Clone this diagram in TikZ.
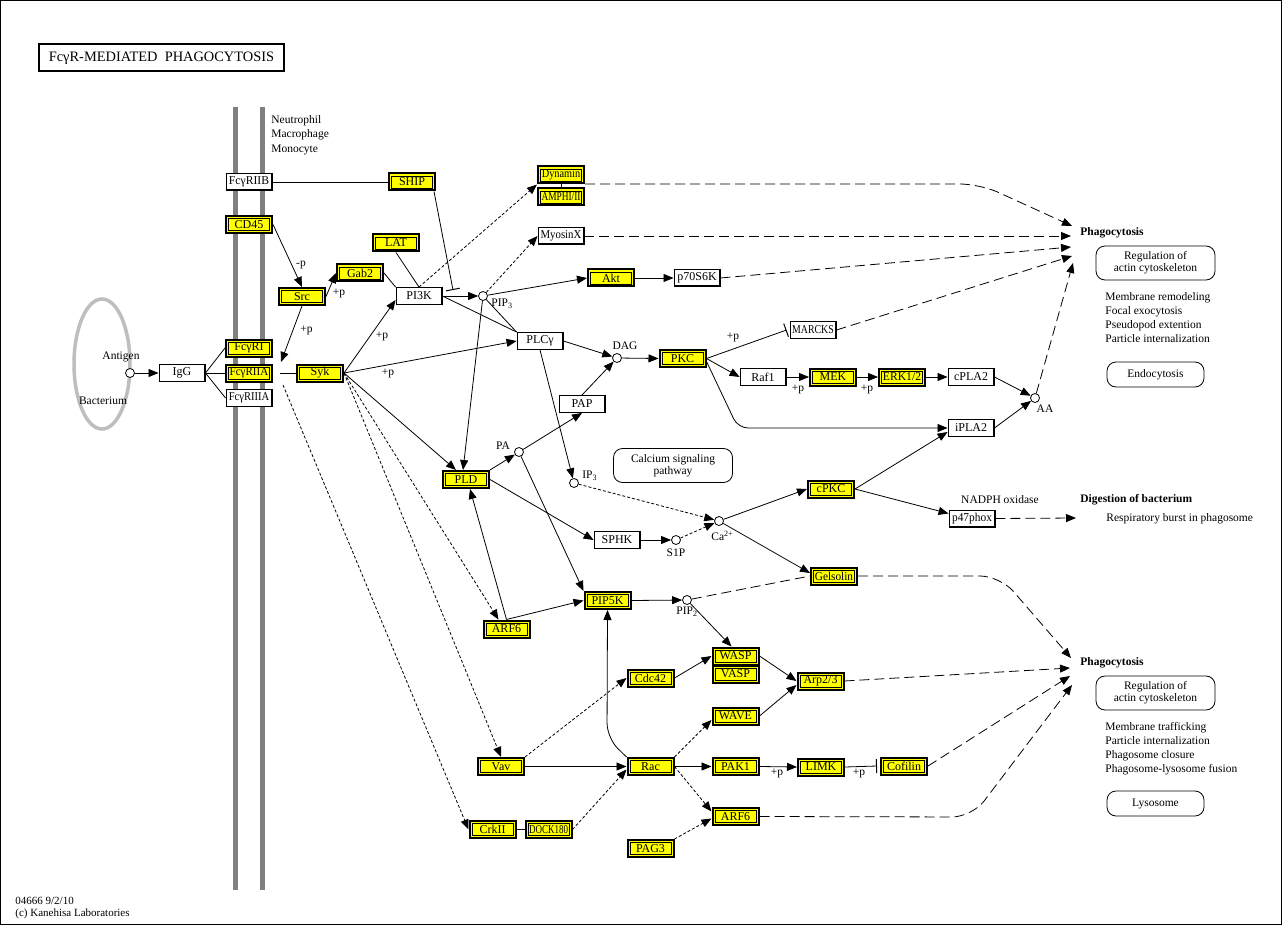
\documentclass[tikz,border=0pt]{standalone}
\usepackage{fontspec}
\usepackage{graphicx}
\setmainfont{Liberation Serif}
\usetikzlibrary{arrows.meta}
\definecolor{mem}{RGB}{128,128,128}
\definecolor{bact}{RGB}{190,190,190}
\definecolor{gy}{RGB}{255,255,0}
\newcommand{\sqz}[2]{\scalebox{#1}[1]{#2}}
\begin{document}
\begin{tikzpicture}[x=1pt,y=-1pt,line width=0.8pt,
  every node/.style={font=\fontsize{11.5}{12}\selectfont, inner sep=0pt},
  ybox/.style={draw, line width=2pt, fill=gy, minimum width=46pt, minimum height=17pt, font=\fontsize{12}{13}\selectfont,
    path picture={\draw[line width=0.7pt] ([shift={(2.5pt,2.5pt)}]path picture bounding box.south west) rectangle ([shift={(-2.5pt,-2.5pt)}]path picture bounding box.north east);}},
  wbox/.style={draw, line width=0.9pt, fill=white, minimum width=46pt, minimum height=17pt, font=\fontsize{12}{13}\selectfont,
    path picture={\draw[line width=2pt] (path picture bounding box.south west) -- (path picture bounding box.south east) -- (path picture bounding box.north east);}},
  cpd/.style={circle, draw, fill=white, minimum size=9pt, line width=0.8pt},
  rbox/.style={draw, rounded corners=9pt, line width=0.8pt, align=center, font=\fontsize{11.5}{12}\selectfont},
  arr/.style={-{Triangle[length=10pt,width=8pt]}},
  inh/.style={-{Bar[width=14pt,line width=1pt]}},
  fd/.style={dash pattern=on 3pt off 2pt},
  ld/.style={dash pattern=on 10pt off 5pt},
  bld/.style={font=\bfseries\fontsize{11.5}{12}\selectfont}
]
\useasboundingbox (0,0) rectangle (1282,925);
\fill[white] (0,0) rectangle (1282,925);
\draw[line width=1pt] (0.5,0.5) rectangle (1281.5,924.5);

% membrane and bacterium
\draw[mem, line width=5pt] (235,107) -- (235,890);
\draw[mem, line width=5pt] (262,107) -- (262,890);
\draw[bact, line width=3.5pt] (102,364) ellipse [x radius=28pt, y radius=65pt];

% title
\node[draw, line width=2pt, minimum width=245pt, minimum height=27pt, font=\fontsize{14.4}{16}\selectfont] (title) at (161.5,58) {FcγR-MEDIATED\ \ PHAGOCYTOSIS};

\node[anchor=north west, align=left, font=\fontsize{11.5}{14.5}\selectfont] (cells) at (271,115) {Neutrophil\\Macrophage\\Monocyte};
\node (antlbl) at (121,357) {Antigen};
\node (baclbl) at (103,401) {Bacterium};

% nodes
\node[cpd] (ant) at (130,373) {};
\node[wbox] (IgG) at (182,373) {IgG};
\node[wbox] (FcgRIIB) at (249,182) {\sqz{0.97}{FcγRIIB}};
\node[ybox] (CD45) at (249,224.5) {CD45};
\node[ybox] (FcgRI) at (249,348) {FcγRI};
\node[ybox] (FcgRIIA) at (249,373) {\sqz{0.92}{FcγRIIA}};
\node[wbox] (FcgRIIIA) at (249,398) {\sqz{0.88}{FcγRIIIA}};
\node[ybox] (SHIP) at (412,182) {SHIP};
\node[ybox] (Dynamin) at (561,175) {\sqz{0.86}{Dynamin}};
\node[ybox] (AMPH) at (561,197) {\sqz{0.78}{AMPHI/II}};
\node[wbox] (MyosinX) at (561,236) {\sqz{0.9}{MyosinX}};
\node[ybox] (LAT) at (396,243) {LAT};
\node[ybox] (Gab2) at (360,273) {Gab2};
\node[ybox] (Src) at (302,296.5) {Src};
\node[wbox] (PI3K) at (419,296) {PI3K};
\node[cpd] (PIP3) at (483,296) {};
\node[anchor=west] (PIP3l) at (491,304) {PIP\textsubscript{3}};
\node[ybox] (Akt) at (611,278) {Akt};
\node[wbox] (p70) at (697,278) {p70S6K};
\node[wbox] (PLCg) at (540,341) {PLCγ};
\node[ybox] (Syk) at (320,373) {Syk};
\node[ybox] (PLD) at (466,479.5) {PLD};
\node[cpd] (PA) at (519,452) {};
\node (PAl) at (503,446) {PA};
\node[wbox] (PAP) at (582,404) {PAP};
\node[cpd] (DAG) at (617,358) {};
\node (DAGl) at (625,346) {DAG};
\node[ybox] (PKC) at (682.5,358.5) {PKC};
\node[cpd] (IP3) at (574,483) {};
\node[anchor=west] (IP3l) at (582,476) {IP\textsubscript{3}};
\node[cpd] (Ca) at (719,521) {};
\node[anchor=west] (Cal) at (711,536) {Ca\textsuperscript{2+}};
\node[wbox] (SPHK) at (617,540) {SPHK};
\node[cpd] (S1P) at (676,540) {};
\node (S1Pl) at (676,553) {S1P};
\node[ybox] (cPKC) at (831,489) {cPKC};
\node[wbox] (MARCKS) at (813,330) {\sqz{0.82}{MARCKS}};
\node[wbox] (Raf1) at (763,377) {Raf1};
\node[ybox] (MEK) at (833,377) {MEK};
\node[ybox] (ERK) at (902,377) {\sqz{0.97}{ERK1/2}};
\node[wbox] (cPLA2) at (971,377) {cPLA2};
\node[cpd] (AA) at (1035,398) {};
\node (AAl) at (1045,409) {AA};
\node[wbox] (iPLA2) at (971,428) {iPLA2};
\node[wbox] (p47) at (972,518.5) {\sqz{0.95}{p47phox}};
\node (nadph) at (1000,500) {NADPH oxidase};
\node[ybox] (Gelsolin) at (834,576) {\sqz{0.94}{Gelsolin}};
\node[ybox] (PIP5K) at (607.5,600.5) {PIP5K};
\node[cpd] (PIP2) at (687,600) {};
\node[anchor=west] (PIP2l) at (676,612) {PIP\textsubscript{2}};
\node[ybox] (ARF6a) at (506.5,629) {ARF6};
\node[ybox] (WASP) at (735.5,656) {WASP};
\node[ybox] (VASP) at (735.5,674) {VASP};
\node[ybox] (Arp) at (820.5,681) {Arp2/3};
\node[ybox] (Cdc42) at (650.5,678) {Cdc42};
\node[ybox] (WAVE) at (735.5,716) {WAVE};
\node[ybox] (Rac) at (650.5,766.5) {Rac};
\node[ybox] (Vav) at (501,766.5) {Vav};
\node[ybox] (PAK1) at (735.5,766.5) {PAK1};
\node[ybox] (LIMK) at (821,767) {LIMK};
\node[ybox] (Cofilin) at (904,766) {Cofilin};
\node[ybox] (ARF6b) at (735.5,816.5) {ARF6};
\node[ybox] (PAG3) at (650.5,848.5) {PAG3};
\node[ybox] (CrkII) at (492.5,829.5) {CrkII};
\node[ybox] (DOCK) at (548.5,829.5) {\sqz{0.75}{DOCK180}};

% +p labels
\node (lm1) at (301,265) {-p};
\node (lp1) at (339,293) {+p};
\node (lp2) at (306.5,330.5) {+p};
\node (lp3) at (382,336) {+p};
\node (lp4) at (388,373.5) {+p};
\node (lp5) at (733,337) {+p};
\node (lp6) at (798,389) {+p};
\node (lp7) at (867,389) {+p};
\node (lp8) at (777,773.5) {+p};
\node (lp9) at (859,773.5) {+p};

% right side
\node[anchor=west, bld] (ph1) at (1080,233) {Phagocytosis};
\node[rbox, minimum width=119pt, minimum height=34pt] (reg1) at (1155.5,263) {Regulation of\\actin cytoskeleton};
\node[anchor=north west, align=left, font=\fontsize{11.5}{14}\selectfont] (list1) at (1105,292) {Membrane remodeling\\Focal exocytosis\\Pseudopod extention\\Particle internalization};
\node[rbox, minimum width=97pt, minimum height=25pt] (endo) at (1155.5,374.5) {Endocytosis};
\node[anchor=west, bld] (dig) at (1080,500) {Digestion of bacterium};
\node[anchor=west] (resp) at (1106,519) {Respiratory burst in phagosome};
\node[anchor=west, bld] (ph2) at (1080,663) {Phagocytosis};
\node[rbox, minimum width=119pt, minimum height=34pt] (reg2) at (1155.5,693) {Regulation of\\actin cytoskeleton};
\node[anchor=north west, align=left, font=\fontsize{11.5}{14}\selectfont] (list2) at (1105,722) {Membrane trafficking\\Particle internalization\\Phagosome closure\\Phagosome-lysosome fusion};
\node[rbox, minimum width=97pt, minimum height=25pt] (lyso) at (1155.5,803.5) {Lysosome};
\node[rbox, minimum width=119pt, minimum height=34pt] (calc) at (673,465.5) {Calcium signaling\\pathway};

\node[anchor=north west, align=left, font=\fontsize{11}{12}\selectfont] (foot) at (15,897) {04666 9/2/10\\(c) Kanehisa Laboratories};

% coordinates
\coordinate (lk) at (281,362);
\coordinate (fcl) at (280,373);
\coordinate (crk0) at (283,385);
\coordinate (shipbar) at (453,290);
\coordinate (pa1) at (1072,226);
\coordinate (pa2) at (1071,236);
\coordinate (pa3) at (1071,247);
\coordinate (pa4) at (1072,256);
\coordinate (pa5) at (1073,263);
\coordinate (pb1) at (1071,658);
\coordinate (pb2) at (1070,668);
\coordinate (pb3) at (1070,676);
\coordinate (pb4) at (1072,685);
\coordinate (dg) at (1076,518);

% edges
\draw[arr] (ant) -- (IgG.west);
\draw (IgG.east) -- (FcgRI.west);
\draw (IgG.east) -- (FcgRIIA.west);
\draw (IgG.east) -- (FcgRIIIA.west);
\draw (FcgRIIB.east) -- (SHIP.west);
\draw[arr] (CD45.east) -- (Src.north);
\draw[arr] (Src.east) -- (Gab2.west);
\draw[arr] (Src.south) -- (lk);
\draw (fcl) -- (Syk.west);
\draw[fd,arr] (crk0) -- (CrkII.west);
\draw[arr] (Syk.east) -- ([yshift=-4pt]PI3K.west);
\draw[arr] (Syk.east) -- (PLCg.west);
\draw[arr] (Syk.east) -- ([xshift=-10pt]PLD.north);
\draw[fd,arr] (Syk.east) -- ([xshift=-8pt]ARF6a.north);
\draw[fd,arr] (Syk.east) -- (Vav.north);
\draw (LAT.south) -- (PI3K.north);
\draw (Gab2.east) -- (PI3K.north west);
\draw[arr] (PI3K.east) -- (PIP3);
\draw[inh] ([xshift=-2pt]SHIP.south east) -- (shipbar);
\draw[fd,arr] (PI3K.north) -- (Dynamin.south west);
\draw (Dynamin.south) -- (AMPH.north);
\draw[fd,arr] (PIP3) -- (MyosinX.west);
\draw[arr] (PIP3) -- (Akt.west);
\draw[arr] (Akt.east) -- (p70.west);
\draw (PI3K.east) -- (PLCg.north west);
\draw (PIP3) -- (PLCg.north west);
\draw[arr] (PIP3) -- ([xshift=-3pt]PLD.north);
\draw[arr] (ARF6a.north) -- ([xshift=4pt]PLD.south);
\draw[arr] (ARF6a.north) -- (PIP5K.west);
\draw[arr] (PLD.north east) -- (PA);
\draw[arr] (PLD.east) -- (SPHK.west);
\draw[arr] (PA) -- (PAP.south);
\draw[arr] (PA) -- (PIP5K.north west);
\draw[arr] (PAP.north) -- (DAG);
\draw[arr] (PLCg.east) -- (DAG);
\draw[arr] (PLCg.south) -- (IP3);
\draw[arr] (DAG) -- (PKC.west);
\draw[fd,arr] (IP3) -- (Ca);
\draw[arr] (SPHK.east) -- (S1P);
\draw[fd,arr] (S1P) -- (Ca);
\draw[arr] (Ca) -- (cPKC.west);
\draw[arr] (Ca) -- ([yshift=3pt]Gelsolin.west);
\draw[inh] (PKC.east) -- ([xshift=-3pt]MARCKS.west);
\draw[arr] (PKC.east) -- (Raf1.west);
\draw[arr] (Raf1.east) -- (MEK.west);
\draw[arr] (MEK.east) -- (ERK.west);
\draw[arr] (ERK.east) -- (cPLA2.west);
\draw[arr] (cPLA2.east) -- (AA);
\draw[arr, rounded corners=10pt] ([yshift=-3pt]PKC.east) -- (738,428) -- (iPLA2.west);
\draw[arr] (iPLA2.east) -- (AA);
\draw[arr] (cPKC.east) -- ([yshift=-4pt]iPLA2.west);
\draw[arr] (cPKC.east) -- ([yshift=5pt]p47.west);
\draw[ld,arr] (p47.east) -- (dg);
\draw[ld,arr,rounded corners=20pt] ([yshift=-9pt]Dynamin.east) -- (980,184) -- (pa1);
\draw[ld,arr] (MyosinX.east) -- (pa2);
\draw[ld,arr] (p70.east) -- (pa3);
\draw[ld,arr] (MARCKS.east) -- (pa4);
\draw[ld,arr] (AA) -- (pa5);
\draw[ld,arr,rounded corners=20pt] (Gelsolin.east) -- (1000,576) -- (pb1);
\draw[ld,arr] (Arp.east) -- (pb2);
\draw[ld,arr] (Cofilin.east) -- (pb3);
\draw[ld,arr,rounded corners=20pt] (ARF6b.east) -- (972,817) -- (pb4);
\draw[arr] (PIP5K.east) -- (PIP2);
\draw[ld] (PIP2) -- (Gelsolin.west);
\draw[arr] (PIP2) -- ([xshift=-4pt]WASP.north);
\draw[arr] (WASP.east) -- (Arp.west);
\draw[arr] (Cdc42.east) -- (WASP.west);
\draw[arr] (WAVE.east) -- ([yshift=-4pt]Arp.west);
\draw[fd,arr] (Vav.north east) -- (Cdc42.west);
\draw[arr] (Vav.east) -- (Rac.west);
\draw[arr, rounded corners=15pt] (Rac.north west) -- (607,738) -- (PIP5K.south);
\draw[fd,arr] (Rac.north east) -- ([yshift=-4pt]WAVE.west);
\draw[arr] (Rac.east) -- (PAK1.west);
\draw[fd,arr] (Rac.east) -- ([yshift=5pt]ARF6b.west);
\draw[fd,arr] (PAG3.north east) -- ([yshift=-2pt]ARF6b.west);
\draw[arr] (PAK1.east) -- (LIMK.west);
\draw[inh] (LIMK.east) -- ([xshift=-3pt]Cofilin.west);
\draw (CrkII.east) -- (DOCK.west);
\draw[fd,arr] (DOCK.east) -- ([yshift=-3pt]Rac.west);
\end{tikzpicture}
\end{document}
